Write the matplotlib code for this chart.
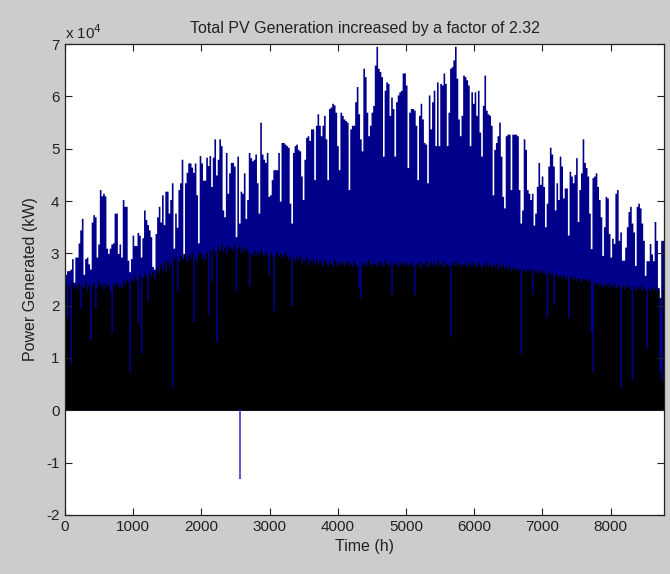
import numpy as np
import matplotlib
matplotlib.use("Agg")
import matplotlib.pyplot as plt

# Daily peak of the scaled PV generation (blue), in thousands of kW
pv_scaled_peak_k = [
    26.0, 26.7, 26.7, 27.0, 29.0, 24.5, 29.3, 29.3, 32.0, 34.5,
    36.7, 26.0, 29.0, 29.3, 28.0, 27.0, 36.0, 37.4, 37.0, 29.3,
    31.8, 42.2, 41.0, 41.5, 41.0, 31.0, 30.0, 31.0, 31.8, 32.0,
    37.7, 37.7, 30.0, 31.8, 29.3, 40.3, 39.0, 39.0, 28.7, 26.5,
    29.0, 33.5, 31.5, 31.5, 34.0, 33.5, 29.3, 33.0, 38.3, 36.5,
    35.5, 34.5, 33.2, 27.5, 27.0, 33.8, 37.0, 39.0, 36.0, 41.2,
    35.5, 41.9, 41.9, 37.7, 40.3, 43.5, 31.0, 37.7, 35.0, 42.2,
    43.5, 48.0, 29.3, 43.5, 45.5, 47.3, 47.3, 46.5, 45.5, 47.3,
    41.2, 32.0, 48.7, 47.3, 44.0, 44.0, 48.4, 46.8, 48.7, 42.8,
    48.4, 51.9, 45.0, 48.0, 51.9, 50.6, 38.3, 37.0, 49.3, 41.5,
    45.4, 47.4, 47.4, 46.7, 33.2, 48.6, 35.8, 41.9, 41.5, 45.4,
    36.7, 40.3, 49.3, 48.3, 47.7, 48.0, 49.0, 43.5, 37.7, 55.1,
    49.0, 48.0, 47.4, 49.3, 40.9, 41.2, 44.1, 46.0, 46.0, 46.0,
    49.3, 40.0, 51.2, 51.2, 50.9, 50.6, 50.3, 39.6, 35.8, 49.3,
    50.6, 50.9, 49.9, 49.6, 44.8, 40.3, 48.0, 52.2, 52.5, 51.6,
    53.8, 53.8, 44.1, 54.5, 56.7, 54.5, 52.5, 54.5, 56.4, 51.9,
    44.1, 57.7, 58.0, 58.7, 58.4, 57.0, 50.6, 46.0, 57.0, 56.4,
    55.7, 55.4, 55.1, 42.2, 53.8, 54.5, 54.5, 59.0, 61.9, 56.7,
    51.9, 49.6, 65.4, 63.8, 57.0, 52.5, 54.5, 57.0, 58.3, 66.0,
    69.6, 65.4, 64.8, 63.8, 48.6, 61.2, 62.8, 62.5, 56.4, 59.9,
    57.7, 48.6, 59.0, 60.3, 60.9, 61.2, 64.5, 64.5, 62.2, 46.4,
    57.0, 57.7, 57.7, 57.4, 54.5, 44.1, 56.4, 58.7, 55.7, 51.2,
    50.9, 43.5, 60.3, 53.8, 59.0, 61.2, 50.6, 62.8, 50.6, 62.5,
    62.2, 64.5, 62.5, 50.6, 57.0, 65.4, 65.7, 67.0, 69.6, 63.5,
    55.7, 52.5, 56.4, 64.1, 63.8, 63.2, 62.2, 50.6, 60.9, 58.7,
    60.9, 56.4, 61.2, 53.2, 48.6, 58.3, 64.1, 57.4, 56.7, 56.4,
    54.5, 41.2, 49.9, 51.2, 52.5, 55.1, 48.6, 40.9, 38.7, 52.5,
    52.8, 52.8, 42.2, 52.8, 52.8, 52.8, 52.5, 42.2, 35.8, 38.3,
    51.9, 49.9, 42.2, 41.5, 40.3, 41.5, 35.4, 37.7, 42.8, 47.4,
    43.2, 44.8, 42.8, 35.1, 39.6, 46.7, 50.3, 49.0, 46.7, 38.3,
    43.5, 40.3, 48.6, 46.7, 40.6, 42.5, 42.5, 33.5, 45.7, 44.8,
    43.5, 45.1, 48.3, 36.1, 42.2, 45.4, 51.9, 47.4, 46.4, 44.8,
    37.7, 30.9, 44.5, 44.8, 45.4, 42.8, 40.3, 37.0, 29.6, 35.1,
    40.9, 40.6, 33.8, 29.3, 32.9, 31.9, 41.5, 42.2, 32.5, 34.1,
    28.7, 28.7, 31.2, 35.1, 38.0, 39.0, 35.8, 34.1, 27.7, 39.0,
    39.6, 38.7, 35.8, 32.5, 25.8, 28.6, 28.6, 31.9, 29.9, 28.6,
    36.1, 32.5, 23.5, 21.6, 32.5, 32.5,
]

# Daily peak of the original PV generation (black), in thousands of kW
pv_base_peak_k = [
    24.2, 17.7, 23.8, 9.0, 24.5, 23.5, 24.0, 23.2, 24.3, 19.6,
    24.0, 23.5, 24.6, 23.0, 24.1, 13.5, 23.8, 24.4, 19.6, 23.6,
    24.8, 23.9, 24.2, 23.1, 24.5, 23.7, 24.0, 22.8, 14.8, 24.3,
    23.9, 24.6, 23.4, 24.1, 23.5, 24.8, 24.2, 25.0, 24.4, 7.4,
    25.2, 24.6, 25.8, 25.0, 16.7, 26.0, 10.9, 25.4, 26.2, 25.6,
    21.0, 26.4, 25.8, 26.6, 25.2, 26.8, 27.5, 26.2, 28.0, 27.0,
    28.4, 26.6, 28.8, 27.6, 28.2, 4.5, 28.9, 29.4, 22.9, 28.6,
    29.6, 28.8, 30.0, 29.2, 28.4, 29.8, 29.0, 30.2, 17.0, 29.4,
    28.6, 29.8, 30.4, 29.2, 29.9, 28.8, 30.2, 18.3, 30.6, 24.8,
    31.0, 30.2, 13.2, 31.4, 30.6, 31.8, 30.4, 31.2, 30.0, 31.6,
    30.8, 31.2, 30.4, 31.5, 22.9, 30.9, 31.7, 30.2, 31.0, 30.6,
    31.3, 30.5, 23.8, 30.0, 29.8, 30.6, 29.6, 30.4, 29.9, 30.8,
    30.1, 29.5, 30.3, 29.7, 26.0, 30.2, 29.4, 19.0, 29.9, 30.3,
    29.6, 30.0, 29.2, 29.8, 30.4, 29.5, 28.9, 29.7, 20.0, 29.1,
    28.6, 29.4, 28.8, 29.6, 28.2, 29.0, 28.5, 29.3, 27.8, 28.9,
    28.4, 29.2, 27.9, 28.7, 28.1, 29.0, 28.3, 27.6, 28.8, 28.2,
    27.8, 28.6, 28.0, 27.5, 28.9, 28.2, 27.7, 28.5, 27.9, 28.4,
    27.6, 28.3, 28.7, 27.8, 28.1, 27.4, 28.6, 28.0, 27.7, 23.5,
    21.6, 28.2, 27.8, 28.5, 27.6, 28.9, 28.1, 27.5, 28.4, 28.0,
    27.7, 28.6, 27.9, 28.3, 27.5, 28.8, 28.0, 27.6, 28.4, 22.2,
    28.1, 27.8, 28.5, 27.4, 28.2, 27.9, 28.6, 27.7, 28.3, 27.5,
    28.0, 28.4, 27.6, 22.2, 28.1, 27.8, 28.5, 27.3, 28.2, 27.9,
    28.6, 27.5, 28.0, 28.4, 27.7, 28.3, 27.6, 28.8, 27.9, 28.2,
    27.4, 28.5, 27.8, 28.1, 27.6, 14.2, 28.3, 27.7, 28.6, 27.9,
    28.2, 27.5, 28.0, 27.8, 28.4, 27.3, 28.1, 27.7, 28.5, 27.6,
    28.0, 27.4, 28.3, 27.8, 27.2, 28.1, 27.6, 28.4, 27.5, 27.9,
    27.3, 28.0, 27.6, 28.2, 27.1, 27.8, 27.4, 28.0, 27.2, 27.7,
    27.0, 27.6, 26.8, 27.3, 26.9, 27.5, 26.7, 27.2, 10.9, 26.8,
    27.1, 26.5, 27.0, 26.6, 27.2, 22.2, 26.8, 26.4, 27.0, 26.3,
    26.7, 26.2, 26.8, 26.0, 17.7, 26.5, 25.9, 26.4, 20.3, 25.8,
    26.2, 25.6, 26.0, 25.4, 25.9, 25.2, 25.7, 17.7, 25.3, 25.8,
    25.0, 25.5, 24.8, 25.4, 25.1, 24.6, 25.2, 24.9, 25.3, 24.7,
    25.0, 15.0, 7.4, 24.5, 24.0, 24.6, 23.8, 24.3, 23.6, 24.2,
    23.9, 24.4, 23.5, 24.1, 23.7, 24.3, 23.4, 24.0, 23.6, 4.5,
    23.8, 23.2, 24.0, 23.5, 23.9, 23.1, 5.8, 23.6, 23.0, 23.7,
    23.3, 23.8, 22.9, 23.5, 23.1, 11.9, 23.4, 22.8, 23.6, 23.0,
    23.5, 22.7, 23.2, 7.4, 5.8, 23.0,
]

# Single negative reading in the scaled series
neg_spike_hour = 2566
neg_spike_kw = -13200

x_ticks = [0, 1000, 2000, 3000, 4000, 5000, 6000, 7000, 8000]
y_ticks = [-2e4, -1e4, 0, 1e4, 2e4, 3e4, 4e4, 5e4, 6e4, 7e4]
y_tick_labels = ["-2", "-1", "0", "1", "2", "3", "4", "5", "6", "7"]

title = "Total PV Generation increased by a factor of 2.32"
x_label = "Time (h)"
y_label = "Power Generated (kW)"

blue = "#00008b"
n_days = len(pv_scaled_peak_k)
hours_per_day = 24
edges = np.arange(n_days + 1) * hours_per_day
scaled = np.array(pv_scaled_peak_k + [pv_scaled_peak_k[-1]]) * 1000
base = np.array(pv_base_peak_k + [pv_base_peak_k[-1]]) * 1000

plt.rcParams["font.family"] = ["Liberation Sans", "DejaVu Sans"]
fig = plt.figure(figsize=(6.70, 5.74), dpi=100, facecolor="#cccccc")
ax = fig.add_axes([0.097, 0.103, 0.894, 0.820])
ax.set_facecolor("white")

ax.fill_between(edges, 0, scaled, step="post", color=blue, linewidth=0)
ax.vlines([neg_spike_hour], [0], [neg_spike_kw], color="#3c3cc0", linewidth=1.2)
ax.fill_between(edges, 0, base, step="post", color="black", linewidth=0)

ax.set_xlim(0, n_days * hours_per_day)
ax.set_ylim(-2e4, 7e4)
ax.set_xticks(x_ticks)
ax.set_xticklabels([str(v) for v in x_ticks])
ax.set_yticks(y_ticks)
ax.set_yticklabels(y_tick_labels)
ax.tick_params(direction="in", length=5, width=0.8, top=True, right=True,
               labelsize=11, colors="#222222", pad=4)
for side in ax.spines.values():
    side.set_linewidth(0.9)
    side.set_color("#222222")

ax.set_title(title, fontsize=11.5, color="#222222", pad=8)
ax.set_xlabel(x_label, fontsize=11.5, color="#222222", labelpad=3)
ax.set_ylabel(y_label, fontsize=11.5, color="#222222", labelpad=6)
ax.text(0.0, 1.005, r"x 10$^{4}$", transform=ax.transAxes, fontsize=11,
        color="#222222", ha="left", va="bottom")

fig.savefig("out.png", dpi=100, facecolor=fig.get_facecolor())
